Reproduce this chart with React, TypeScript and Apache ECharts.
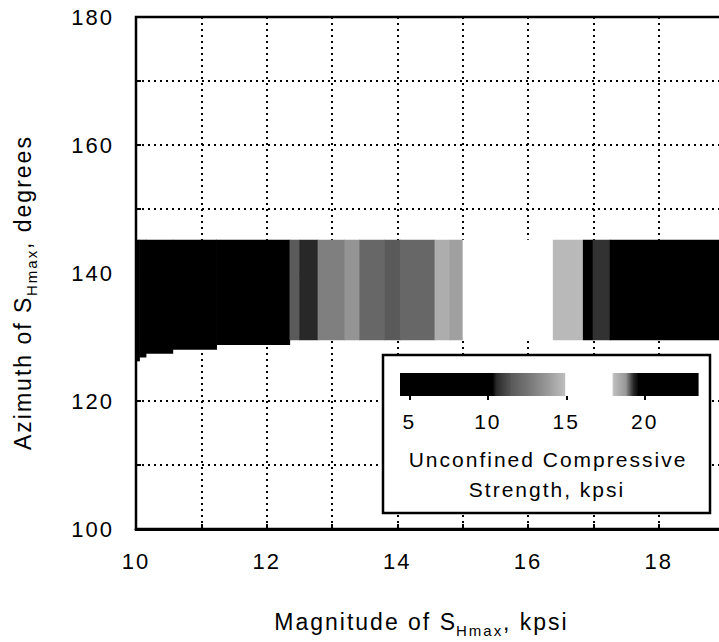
import { useEffect, useRef } from 'react';
import * as echarts from 'echarts';

// Magnitude of S_Hmax (kpsi): column boundaries of the computed band
const columnEdges = [10.0, 10.05, 10.15, 10.56, 11.23, 12.35, 12.5, 12.78, 13.19, 13.42, 13.8, 14.04, 14.57, 14.8, 15.0, 16.38, 16.84, 16.99, 17.25, 19.0];
// Unconfined compressive strength (kpsi) in each column
const columnUCS = [6, 6, 6, 7, 8, 11.5, 10.5, 12.9, 13.6, 12.0, 11.5, 12.0, 14.4, 14.0, 16.5, 18.1, 21, 19.2, 21];
// Lower azimuth limit (degrees) of each column
const columnBottom = [126.2, 126.8, 127.4, 128.0, 128.75, 129.5, 129.5, 129.5, 129.5, 129.5, 129.5, 129.5, 129.5, 129.5, 129.5, 129.5, 129.5, 129.5, 129.5];
// Upper azimuth limit (degrees) of each column
const columnTop = [145.2, 145.2, 145.2, 145.2, 145.2, 145.2, 145.2, 145.2, 145.2, 145.2, 145.2, 145.2, 145.2, 145.2, 145.2, 145.2, 145.2, 145.2, 145.2];

// Grey-scale colour scale of the strength legend (kpsi -> grey level)
const cmapValues = [4.4, 10.3, 10.5, 11.5, 13.0, 14.0, 14.9, 14.95, 17.9, 18.0, 18.8, 19.2, 19.6, 23.4];
const cmapGrays = [0, 0, 40, 90, 130, 160, 190, 255, 255, 190, 150, 50, 0, 0];

const legendTicks = [5, 10, 15, 20];

function grayLevel(v: number): number {
  if (v <= cmapValues[0]) return cmapGrays[0];
  for (let i = 0; i < cmapValues.length - 1; i++) {
    if (v >= cmapValues[i] && v <= cmapValues[i + 1]) {
      const t = (v - cmapValues[i]) / (cmapValues[i + 1] - cmapValues[i]);
      return cmapGrays[i] + t * (cmapGrays[i + 1] - cmapGrays[i]);
    }
  }
  return cmapGrays[cmapGrays.length - 1];
}
function grayCss(g: number): string {
  const c = Math.round(g);
  return `rgb(${c},${c},${c})`;
}

const FONT = "'Liberation Sans', Arial, Helvetica, sans-serif";

export default function App() {
  const ref = useRef<HTMLDivElement>(null);
  useEffect(() => {
    const chart = echarts.init(ref.current!, null, { renderer: 'svg' });

    const bandData = columnUCS.map((u, i) => [columnEdges[i], columnEdges[i + 1], columnBottom[i], columnTop[i], u]);
    const legendData = cmapValues.slice(0, -1).map((v, i) => [v, cmapValues[i + 1], 0, 1, cmapGrays[i], cmapGrays[i + 1]]);

    const option: any = {
      animation: false,
      backgroundColor: '#ffffff',
      textStyle: { fontFamily: FONT, color: '#000' },
      grid: [
        { left: 136, top: 17, right: -5, bottom: 113, show: true, borderColor: '#000', borderWidth: 2.5, backgroundColor: 'transparent', containLabel: false, outerBoundsMode: 'none' },
        { left: 400, top: 373, width: 298, height: 23, containLabel: false, outerBoundsMode: 'none' },
      ],
      xAxis: [
        {
          type: 'value', gridIndex: 0, min: 10, max: 19, interval: 1,
          axisLine: { show: true, lineStyle: { color: '#000', width: 3 } },
          axisTick: { show: true, inside: true, length: 5, lineStyle: { color: '#000', width: 2 } },
          axisLabel: { fontSize: 22, color: '#000', margin: 21, fontFamily: FONT, formatter: (v: number) => (v % 2 === 0 ? String(v) : '') },
          splitLine: { show: true, lineStyle: { type: [2, 4], color: '#000', width: 2 } },
        },
        {
          type: 'value', gridIndex: 1, min: 4.4, max: 23.4, z: 60,
          axisLine: { show: false },
          axisTick: { show: true, customValues: legendTicks, length: 4, lineStyle: { color: '#000', width: 2 } },
          axisLabel: { customValues: legendTicks, fontSize: 21, color: '#000', margin: 15, fontFamily: FONT },
          splitLine: { show: false },
        },
      ],
      yAxis: [
        {
          type: 'value', gridIndex: 0, min: 100, max: 180, interval: 10,
          axisLine: { show: true, lineStyle: { color: '#000', width: 2 } },
          axisTick: { show: true, inside: true, length: 5, lineStyle: { color: '#000', width: 2 } },
          axisLabel: { fontSize: 22, color: '#000', margin: 22, fontFamily: FONT, formatter: (v: number) => (v % 20 === 0 ? String(v) : '') },
          splitLine: { show: true, lineStyle: { type: [2, 4], color: '#000', width: 2 } },
        },
        { type: 'value', gridIndex: 1, min: 0, max: 1, show: false },
      ],
      series: [
        {
          type: 'custom', xAxisIndex: 0, yAxisIndex: 0, z: 2,
          encode: { x: [0, 1], y: [2, 3] },
          data: bandData,
          renderItem: (_p: any, api: any) => {
            const a = api.coord([api.value(0), api.value(3)]);
            const b = api.coord([api.value(1), api.value(2)]);
            return {
              type: 'rect',
              shape: { x: a[0], y: a[1], width: b[0] - a[0] + 0.6, height: b[1] - a[1] },
              style: { fill: grayCss(grayLevel(api.value(4))), stroke: null },
            };
          },
        },
        {
          type: 'custom', xAxisIndex: 1, yAxisIndex: 1, z: 60,
          encode: { x: [0, 1], y: [2, 3] },
          data: legendData,
          renderItem: (_p: any, api: any) => {
            const a = api.coord([api.value(0), api.value(3)]);
            const b = api.coord([api.value(1), api.value(2)]);
            const g0 = api.value(4), g1 = api.value(5);
            const fill = g0 === g1 ? grayCss(g0) : new echarts.graphic.LinearGradient(0, 0, 1, 0, [
              { offset: 0, color: grayCss(g0) }, { offset: 1, color: grayCss(g1) },
            ]);
            return {
              type: 'rect',
              shape: { x: a[0], y: a[1], width: b[0] - a[0] + 0.6, height: b[1] - a[1] },
              style: { fill, stroke: null },
            };
          },
        },
      ],
      graphic: [
        { type: 'rect', z: 50, shape: { x: 383, y: 355, width: 327, height: 158 }, style: { fill: '#fff', stroke: '#000', lineWidth: 2.5 } },
        { type: 'text', z: 60, x: 548, y: 459, style: { text: 'Unconfined Compressive', font: `21px ${FONT}`, fill: '#000', align: 'center', verticalAlign: 'middle' } },
        { type: 'text', z: 60, x: 547, y: 489, style: { text: 'Strength, kpsi', font: `21px ${FONT}`, fill: '#000', align: 'center', verticalAlign: 'middle' } },
        // x-axis title
        { type: 'text', z: 60, x: 457, y: 622, style: { text: 'Magnitude of S', font: `23px ${FONT}`, fill: '#000', align: 'right', verticalAlign: 'middle' } },
        { type: 'text', z: 60, x: 456, y: 630, style: { text: 'Hmax', font: `15px ${FONT}`, fill: '#000', align: 'left', verticalAlign: 'middle' } },
        { type: 'text', z: 60, x: 503, y: 622, style: { text: ', kpsi', font: `23px ${FONT}`, fill: '#000', align: 'left', verticalAlign: 'middle' } },
        // y-axis title (rotated)
        { type: 'text', z: 60, x: 23, y: 450, rotation: Math.PI / 2, style: { text: 'Azimuth of S', font: `23px ${FONT}`, fill: '#000', align: 'left', verticalAlign: 'middle' } },
        { type: 'text', z: 60, x: 31, y: 296, rotation: Math.PI / 2, style: { text: 'Hmax', font: `15px ${FONT}`, fill: '#000', align: 'left', verticalAlign: 'middle' } },
        { type: 'text', z: 60, x: 23, y: 249, rotation: Math.PI / 2, style: { text: ', degrees', font: `23px ${FONT}`, fill: '#000', align: 'left', verticalAlign: 'middle' } },
      ],
    };

    chart.setOption(option);
    return () => chart.dispose();
  }, []);

  return (
    <div
      ref={ref}
      style={{ position: 'fixed', left: 0, top: 0, width: 719, height: 642, letterSpacing: '2px', background: '#fff' }}
    />
  );
}
